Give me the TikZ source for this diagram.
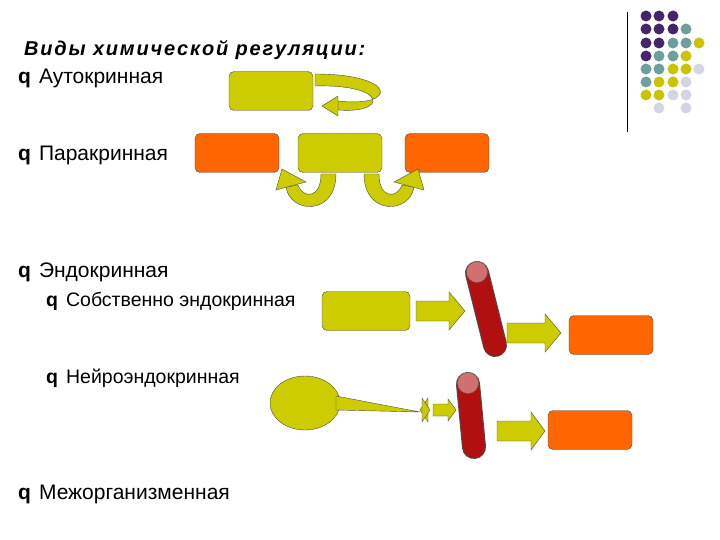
\documentclass[tikz,border=0pt]{standalone}
\usepackage{fontspec}
\setmainfont{Liberation Sans}
\usetikzlibrary{shapes.geometric}
\definecolor{yg}{HTML}{CCCC00}
\definecolor{og}{HTML}{FF6600}
\definecolor{tr}{HTML}{B01010}
\definecolor{tp}{HTML}{D07070}
\definecolor{dp}{HTML}{44246A}
\definecolor{dt}{HTML}{6E9E9E}
\definecolor{dy}{HTML}{C8C400}
\definecolor{dl}{HTML}{D4D4E4}
\tikzset{
 ybox/.style={draw=black!70,fill=yg,rounded corners=5pt,minimum width=84pt,minimum height=39pt,inner sep=0pt},
 obox/.style={draw=black!70,fill=og,rounded corners=5pt,minimum width=84pt,minimum height=39pt,inner sep=0pt},
 band/.style={draw=black!70,fill=yg},
 item/.style={anchor=west,font=\fontsize{21}{24}\selectfont,inner sep=0pt},
 sitem/.style={anchor=west,font=\fontsize{19.5}{22}\selectfont,inner sep=0pt},
 dot/.style={circle,inner sep=0pt,minimum size=11pt}
}
\newcommand{\qb}{\textbf{q}\hspace{8pt}}
\newcommand{\barr}[6]{\path[band] (#1,#3-#4) -- (#2-#6,#3-#4) -- (#2-#6,#3-#5) -- (#2,#3) -- (#2-#6,#3+#5) -- (#2-#6,#3+#4) -- (#1,#3+#4) -- cycle;}
\begin{document}
\begin{tikzpicture}[x=1pt,y=-1pt]
\useasboundingbox (0,0) rectangle (720,540);
\draw (627,12) -- (627,132);
\foreach \c/\x/\y in {dp/646/16,dp/659/16,dp/673/16,
 dp/646/29,dp/659/29,dp/673/29,dt/686/29,
 dp/646/43,dp/659/43,dt/673/43,dt/686/43,dy/699/43,
 dp/646/56,dt/659/56,dt/673/56,dy/686/56,
 dt/646/69,dt/659/69,dy/673/69,dy/686/69,dl/699/69,
 dt/646/82,dy/659/82,dy/673/82,dl/686/82,
 dy/646/95,dy/659/95,dl/673/95,dl/686/95,
 dl/659/108,dl/686/108}
 \node[dot,fill=\c] at (\x,\y) {};
\node[anchor=west,font=\fontsize{20}{22}\selectfont\bfseries\itshape,inner sep=0pt] (t) at (24,50) {\addfontfeature{LetterSpace=9}Виды химической регуляции:};
\node[item] (a) at (18,78) {\qb Аутокринная};
\node[item] (p) at (18,155) {\qb Паракринная};
\node[item] (e) at (18,272) {\qb Эндокринная};
\node[sitem] (e1) at (46,301) {\qb Собственно эндокринная};
\node[sitem] (e2) at (46,378) {\qb Нейроэндокринная};
\node[item] (m) at (18,494) {\qb Межорганизменная};
\node[ybox] (ab) at (271,91) {};
\path[band] (315,74) .. controls (398,74) and (398,108) .. (338,101) -- (338,110) .. controls (388,114) and (388,84) .. (315,86) -- cycle;
\path[band] (338,96) -- (338,116) -- (322,106) -- cycle;
\node[obox] (p1) at (237,153) {};
\node[ybox] (p2) at (340,153) {};
\node[obox] (p3) at (447,153) {};
\path[band] (336,174) .. controls (336,216) and (290,214) .. (286,187) -- (298,185) .. controls (302,198) and (321,200) .. (321,174) -- cycle;
\path[band] (276,190) -- (306,182) -- (282,169) -- cycle;
\path[band] (364,174) .. controls (364,216) and (410,214) .. (414,187) -- (402,185) .. controls (398,198) and (379,200) .. (379,174) -- cycle;
\path[band] (424,190) -- (394,182) -- (418,169) -- cycle;
\node[ybox,minimum width=88pt] (eb) at (366,311) {};
\barr{416}{465}{311}{10}{19}{16}
\draw[black!70,line width=24pt,line cap=round] (477,273) -- (495,345);
\draw[tr,line width=22pt,line cap=round] (477,273) -- (495,345);
\node[circle,draw=black!60,fill=tp,minimum size=21pt,inner sep=0pt] (t1) at (477,272) {};
\barr{507}{561}{333}{10}{19}{16}
\node[obox] (eo) at (611,335) {};
\node[ellipse,draw=black!70,fill=yg,minimum width=70pt,minimum height=54pt] (sp) at (305,403) {};
\path[band] (336,396) -- (420,412) -- (336,410) -- cycle;
\path[band] (420,410) -- (428,398) -- (428,422) -- cycle;
\path[band] (430,410) -- (422,398) -- (422,422) -- cycle;
\barr{433}{456}{410}{6}{11}{8}
\draw[black!70,line width=24pt,line cap=round] (468,384) -- (474,447);
\draw[tr,line width=22pt,line cap=round] (468,384) -- (474,447);
\node[circle,draw=black!60,fill=tp,minimum size=21pt,inner sep=0pt] (t2) at (468,383) {};
\barr{497}{545}{431}{10}{19}{14}
\node[obox] (no) at (590,430) {};
\end{tikzpicture}
\end{document}
